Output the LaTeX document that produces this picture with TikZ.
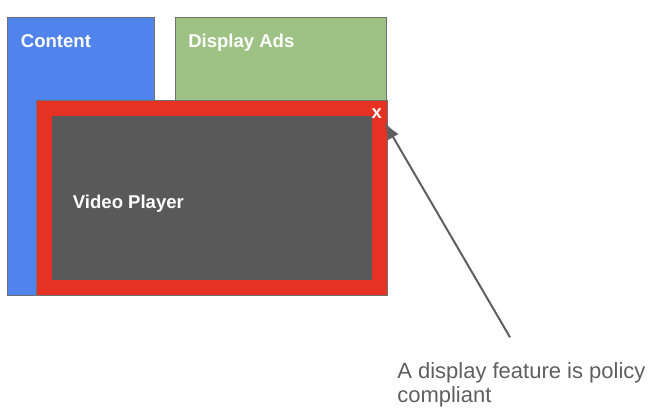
\documentclass[tikz,border=0pt]{standalone}
\usepackage{fontspec}
\setmainfont{Liberation Sans}
\usetikzlibrary{arrows.meta}
\definecolor{contentblue}{HTML}{5083EB}
\definecolor{adsgreen}{HTML}{9DC283}
\definecolor{playerred}{HTML}{E63222}
\definecolor{screengray}{HTML}{595959}
\definecolor{edgegray}{HTML}{707070}
\definecolor{notegray}{HTML}{5F5F5F}
\begin{document}
\begin{tikzpicture}[x=0.75pt, y=0.75pt,
    panel/.style={draw=edgegray, line width=0.75pt, anchor=north west, inner sep=0pt},
    tag/.style={anchor=base west, inner sep=0pt, text=white, font=\fontsize{13.9}{16}\selectfont\bfseries}]
    \useasboundingbox (0,0) rectangle (656,410);
    \node (content) [panel, fill=contentblue, minimum width=110pt, minimum height=208.5pt] at (7.3,393) {};
    \node (ads) [panel, fill=adsgreen, minimum width=158.6pt, minimum height=62.3pt] at (175,393) {};
    \node (player) [panel, fill=playerred, minimum width=263.1pt, minimum height=146.6pt] at (35.7,310) {};
    \node (screen) [panel, draw=none, fill=screengray, minimum width=239.85pt, minimum height=122.6pt] at (51.7,294) {};
    \node (contentlabel) [tag] at (20.7,362.3) {Content};
    \node (adslabel) [tag] at (188,362.3) {Display Ads};
    \node (playerlabel) [tag] at (72.7,201) {Video Player};
    \node (close) [tag, anchor=base] at (376.7,291.5) {x};
    \node (note) [anchor=north west, align=left, text=notegray, inner sep=0pt,
        font=\fontsize{16.5}{18}\selectfont] at (397,48) {A display feature is policy\\compliant};
    \coordinate (tail) at (510,72.7);
    \coordinate (tip) at (384.7,287.3);
    \draw[-{Latex[length=12.5pt,width=9.5pt]}, line width=1.5pt, draw=notegray] (tail) -- (tip);
\end{tikzpicture}
\end{document}
